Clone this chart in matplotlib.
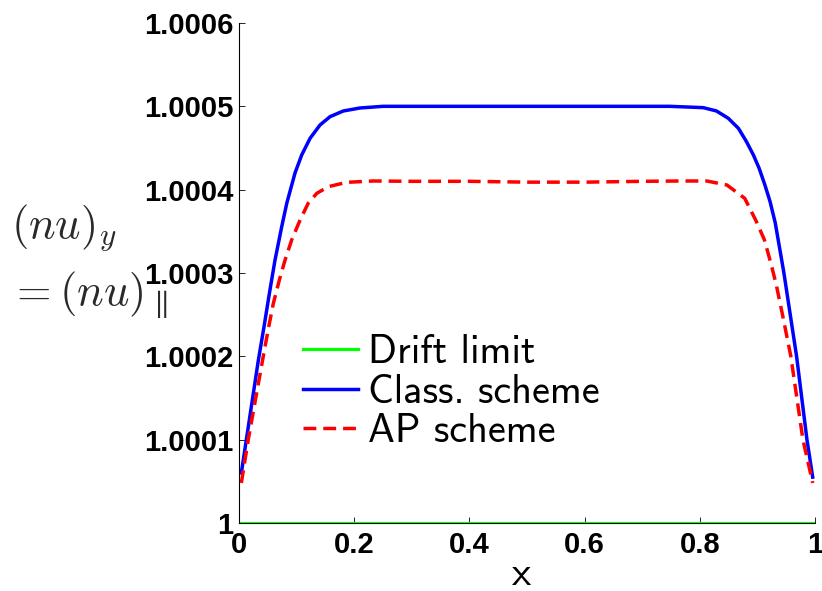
import matplotlib
matplotlib.use("Agg")
import matplotlib.pyplot as plt
import numpy as np

plt.rcParams['mathtext.fontset'] = 'cm'

# Data (values above 1, in units of 1e-4)
drift_x = [0.004, 0.996]
drift_v = [0.0, 0.0]

class_x = [0.004, 0.0127, 0.0336, 0.0434, 0.0527, 0.0625, 0.0741, 0.083, 0.0885,
           0.0972, 0.1088, 0.1233, 0.1406, 0.158, 0.181, 0.210, 0.25, 0.3, 0.4,
           0.5, 0.6, 0.7, 0.748, 0.806, 0.829, 0.8495, 0.867, 0.881, 0.893,
           0.903, 0.913, 0.922, 0.931, 0.946, 0.968, 0.986, 0.996]
class_v = [0.6, 1.0, 1.956, 2.356, 2.756, 3.156, 3.556, 3.84, 3.98,
           4.20, 4.416, 4.616, 4.776, 4.876, 4.944, 4.98, 5.0, 5.0, 5.0,
           5.0, 5.0, 5.0, 5.0, 4.984, 4.944, 4.856, 4.736, 4.576, 4.416,
           4.256, 4.056, 3.856, 3.6, 3.0, 2.0, 1.0, 0.55]

ap_x = [0.004, 0.016, 0.0451, 0.0527, 0.0596, 0.070, 0.0799, 0.0914,
        0.106, 0.120, 0.135, 0.155, 0.187, 0.233, 0.3, 0.4, 0.5, 0.6, 0.7,
        0.7656, 0.812, 0.847, 0.878, 0.898, 0.912, 0.924, 0.933, 0.945,
        0.958, 0.979, 0.996]
ap_v = [0.48, 1.0, 2.116, 2.396, 2.636, 2.916, 3.156, 3.396,
        3.636, 3.836, 3.956, 4.036, 4.088, 4.104, 4.10, 4.10, 4.09, 4.09, 4.10,
        4.104, 4.104, 4.056, 3.896, 3.62, 3.40, 3.10, 2.85, 2.45,
        2.0, 1.0, 0.48]

yticks = [1, 1.0001, 1.0002, 1.0003, 1.0004, 1.0005, 1.0006]
ytick_labels = ['1', '1.0001', '1.0002', '1.0003', '1.0004', '1.0005', '1.0006']
xticks = [0, 0.2, 0.4, 0.6, 0.8, 1]
xtick_labels = ['0', '0.2', '0.4', '0.6', '0.8', '1']


def to_y(v):
    return 1 + np.array(v) * 1e-4


fig = plt.figure(figsize=(8.22, 5.91), dpi=100)
ax = fig.add_axes([0.2908, 0.1151, 0.7007, 0.8460])

ax.plot(drift_x, to_y(drift_v), color='#00ff00', lw=2.3, label='Drift limit', zorder=4)
ax.plot(class_x, to_y(class_v), color='#0000ff', lw=2.5, label='Class. scheme')
ax.plot(ap_x, to_y(ap_v), color='#ff0000', lw=2.5, dashes=(3.7, 2.0), label='AP scheme')

ax.set_xlim(0, 1)
ax.set_ylim(1, 1.0006)
ax.set_xticks(xticks)
ax.set_xticklabels(xtick_labels)
ax.set_yticks(yticks)
ax.set_yticklabels(ytick_labels)

for lab in ax.get_xticklabels() + ax.get_yticklabels():
    lab.set_fontfamily('Liberation Sans')
    lab.set_fontweight('bold')
    lab.set_fontsize(21)

ax.tick_params(direction='in', length=4, width=0.6, color='black')
ax.tick_params(axis='x', pad=6)
ax.tick_params(axis='y', pad=4)

ax.spines['top'].set_visible(False)
ax.spines['right'].set_visible(False)
ax.spines['left'].set_linewidth(0.8)
ax.spines['bottom'].set_linewidth(0.8)

xl = ax.set_xlabel('x', fontfamily='cmss10', fontsize=30)
xl.set_va('baseline')
ax.xaxis.set_label_coords(0.491, -0.124)

# two-line y label on the left
fig.text(0.013, (591 - 237) / 591, r'$(nu)_y$', fontsize=32, color='#2a2a2a',
         ha='left', va='baseline')
fig.text(0.011, (591 - 305) / 591, r'$= (nu)_\parallel$', fontsize=32, color='#2a2a2a',
         ha='left', va='baseline')

leg = ax.legend(loc='upper left', bbox_to_anchor=(0.111, 0.377), frameon=False,
                borderpad=0, borderaxespad=0, handlelength=1.36, handletextpad=0.25,
                labelspacing=0.06, prop={'family': 'cmss10', 'size': 29})

fig.savefig('out.png', dpi=100)
